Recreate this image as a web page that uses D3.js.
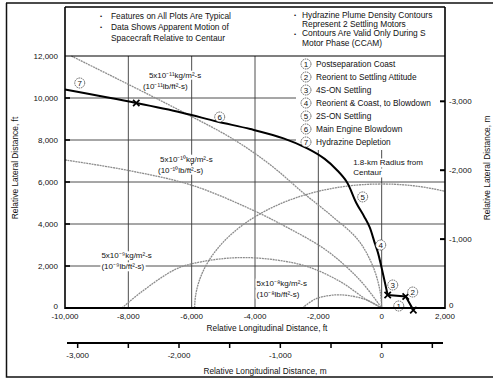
<!DOCTYPE html>
<html><head><meta charset="utf-8">
<script src="https://cdn.jsdelivr.net/npm/d3@7"></script>
<style>
body{margin:0;background:#fff}
text{font-family:"Liberation Sans",Arial,Helvetica,sans-serif;fill:#111}
</style>
</head><body>
<svg id="c" width="493" height="379"></svg>
<script>
// ---------- data ----------
const xTicksFt = [-10000,-8000,-6000,-4000,-2000,0,2000];
const yTicksFt = [0,2000,4000,6000,8000,10000,12000];
const xGridFt = [-8000,-6000,-4000,-2000,0];
const yGridFt = [2000,4000,6000,8000,10000];
const xTicksM = [-3000,-2000,-1000,0];
const xMinorTicksM = [-2500,-1500,-500,500];
const yTicksM = [0,-1000,-2000,-3000];

// trajectory of spacecraft relative to Centaur (ft)
const trajectorySmooth = [
  [-10000,10400],[-7750,9760],[-6300,9300],[-5200,8880],[-4150,8520],[-3100,8080],
  [-2350,7600],[-1800,7100],[-1400,6550],[-1100,6000],[-800,5000],[-550,4350],
  [-380,3850],[-220,3100],[-120,2650],[0,1900],[190,620]
];
const trajectoryEnd = [[190,620],[760,550],[1000,-100]];
const markerPoints = [[-7750,9760],[190,620],[760,550],[1000,-100]];

// circled phase numbers (ft)
const phaseNums = [1,2,3,4,5,6,7];
const phaseNumX = [540,980,350,-30,-600,-5115,-9535];
const phaseNumY = [95,760,1095,3000,5290,9095,10714];
const phaseNames = ["Postseparation Coast","Reorient to Settling Attitude","4S-ON Settling",
  "Reorient & Coast, to Blowdown","2S-ON Settling","Main Engine Blowdown","Hydrazine Depletion"];

// plume density contours (ft)
const contour11 = [[-9800,12000],[-8000,10650],[-6300,9350],[-4700,8050],[-3500,6800],
  [-2450,5450],[-1550,4350],[-750,3250],[-280,2000],[-50,800],[0,0]];
const contour10 = [[-10000,7050],[-8000,6550],[-6000,5850],[-4200,4750],[-3000,3850],
  [-1750,2750],[-700,1350],[0,0]];
const contour9 = [[-8200,0],[-7600,750],[-6500,1850],[-5700,2200],[-4500,2400],[-3300,2280],
  [-2300,1950],[-1300,1250],[-500,420],[0,0]];
const contour8 = [[-2500,0],[-2100,420],[-1500,620],[-900,560],[-400,330],[0,0]];
const radiusKm = 1.8;

const contourLabels = [
  {x:-7350,y:11100,l1:"5x10⁻¹¹kg/m²-s",l2:"(10⁻¹¹lb/ft²-s)",dx2:-6},
  {x:-7000,y:7100,l1:"5x10⁻¹⁰kg/m²-s",l2:"(10⁻¹⁰lb/ft²-s)",dx2:-2},
  {x:-8850,y:2500,l1:"5x10⁻⁹kg/m²-s",l2:"(10⁻⁹lb/ft²-s)",dx2:0},
  {x:-3950,y:1200,l1:"5x10⁻⁸kg/m²-s",l2:"(10⁻⁸lb/ft²-s)",dx2:0}
];
const notesLeft = [["•","Features on All Plots Are Typical"],["•","Data Shows Apparent Motion of"],["","Spacecraft Relative to Centaur"]];
const notesRight = [["•","Hydrazine Plume Density Contours"],["","Represent 2 Settling Motors"],["•","Contours Are Valid Only During S"],["","Motor Phase (CCAM)"]];

// ---------- layout ----------
const svg = d3.select("#c");
const L=65, R=445, T=56, B=308;
const x = d3.scaleLinear().domain([-10000,2000]).range([L,R]);
const y = d3.scaleLinear().domain([0,12000]).range([B,T]);
const ftPerM = 1/0.3048;
const ym = d3.scaleLinear().domain([0,-3000]).range([y(0), y(3000*ftPerM)]);
const xm = d3.scaleLinear().domain([-3000,0]).range([x(0)-304, x(0)]);
const fmt = d3.formatLocale({decimal:".",thousands:",",grouping:[3],currency:["$",""],minus:"-"}).format(",");

svg.append("rect").attr("width",493).attr("height",379).attr("fill","#fff");

// outer border
svg.append("path").attr("d","M6.5,3 L6.5,377 L493,377 M6,3 L493,3").attr("fill","none").attr("stroke","#111").attr("stroke-width",1.5);

// gridlines
const grid = svg.append("g").attr("stroke","#3a3a3a").attr("stroke-width",0.9);
grid.selectAll(".h").data(yGridFt).join("line").attr("x1",L).attr("x2",R).attr("y1",d=>y(d)).attr("y2",d=>y(d));
grid.selectAll(".v").data(xGridFt).join("line").attr("x1",d=>x(d)).attr("x2",d=>x(d)).attr("y1",B).attr("y2",T);

// contours
const cl = d3.line().x(d=>x(d[0])).y(d=>y(d[1])).curve(d3.curveCatmullRom.alpha(0.5));
const cg = svg.append("g").attr("fill","none").attr("stroke","#8c8c8c").attr("stroke-width",1.3).attr("stroke-dasharray","2,0.7");
[contour11,contour10,contour9,contour8].forEach(c=>cg.append("path").attr("d",cl(c)));
// 1.8 km radius circle about Centaur
const Rft = radiusKm*1000*ftPerM;
const a0 = Math.PI, a1 = Math.acos(2000/Rft);
const circ = d3.range(0,61).map(i=>{const a=a0+(a1-a0)*i/60; return [Rft*Math.cos(a), Rft*Math.sin(a)];});
cg.append("path").attr("d",d3.line().x(d=>x(d[0])).y(d=>y(d[1]))(circ));

// legend box (hides grid)
svg.append("rect").attr("x",296).attr("y",T).attr("width",R-296).attr("height",150-T).attr("fill","#fff");

// contour labels with white background
function bgText(g, tx, ty, str){
  const t = g.append("text").attr("x",tx).attr("y",ty).attr("dy","0.35em").attr("font-size",8).text(str);
  const bb = t.node().getBBox();
  g.insert("rect","text").attr("x",bb.x-1).attr("y",bb.y).attr("width",bb.width+2).attr("height",bb.height).attr("fill","#fff");
  return t;
}
contourLabels.forEach(c=>{
  const g = svg.append("g");
  bgText(g, x(c.x), y(c.y), c.l1);
  bgText(g, x(c.x)+c.dx2, y(c.y)+11, c.l2);
});
// 1.8-km label
{
  const g = svg.append("g");
  bgText(g, x(-900), y(6920), "1.8-km Radius from");
  bgText(g, x(-900), y(6920)+10, "Centaur");
}

// trajectory
svg.append("path").attr("d",d3.line().x(d=>x(d[0])).y(d=>y(d[1])).curve(d3.curveCatmullRom.alpha(0.5))(trajectorySmooth))
  .attr("fill","none").attr("stroke","#000").attr("stroke-width",2);
svg.append("path").attr("d",d3.line().x(d=>x(d[0])).y(d=>y(d[1]))(trajectoryEnd))
  .attr("fill","none").attr("stroke","#000").attr("stroke-width",2);
svg.selectAll(".mk").data(markerPoints).join("path")
  .attr("transform",d=>`translate(${x(d[0])},${y(d[1])})`)
  .attr("d",d3.symbol(d3.symbolX,28)).attr("fill","none").attr("stroke","#000").attr("stroke-width",1.7);

// circled numbers
function circNum(g, cx, cy, n){
  g.append("circle").attr("cx",cx).attr("cy",cy).attr("r",5).attr("fill","#fff")
   .attr("stroke","#444").attr("stroke-width",0.8).attr("stroke-dasharray","1.6,0.8");
  g.append("text").attr("x",cx).attr("y",cy).attr("dy","0.36em").attr("text-anchor","middle").attr("font-size",8).text(n);
}
const pg = svg.append("g");
phaseNums.forEach((n,i)=>circNum(pg, x(phaseNumX[i]), y(phaseNumY[i]), n));

// legend
const lg = svg.append("g");
phaseNames.forEach((s,i)=>{
  const cy = 64 + i*13;
  circNum(lg, 306, cy, phaseNums[i]);
  lg.append("text").attr("x",316).attr("y",cy).attr("dy","0.35em").attr("font-size",8.3).text(s);
});

// notes
const ng = svg.append("g").attr("font-size",8.4);
notesLeft.forEach((n,i)=>{
  const yy = 16 + i*11;
  if(n[0]) ng.append("text").attr("x",100).attr("y",yy).attr("dy","0.35em").attr("font-size",6).text(n[0]);
  ng.append("text").attr("x",111).attr("y",yy).attr("dy","0.35em").text(n[1]);
});
notesRight.forEach((n,i)=>{
  const yy = 15 + i*9.2;
  if(n[0]) ng.append("text").attr("x",294).attr("y",yy).attr("dy","0.35em").attr("font-size",6).text(n[0]);
  ng.append("text").attr("x",302).attr("y",yy).attr("dy","0.35em").text(n[1]);
});

// frame
const fr = svg.append("g").attr("stroke","#000").attr("fill","none");
fr.append("line").attr("x1",L).attr("x2",L).attr("y1",7).attr("y2",B+1).attr("stroke-width",1.6);
fr.append("line").attr("x1",R).attr("x2",R).attr("y1",7).attr("y2",B+1).attr("stroke-width",1.6);
fr.append("line").attr("x1",L).attr("x2",R).attr("y1",7).attr("y2",7).attr("stroke-width",1.4);
fr.append("line").attr("x1",L).attr("x2",R).attr("y1",y(12000)).attr("y2",y(12000)).attr("stroke-width",1.1);
fr.append("line").attr("x1",L).attr("x2",R).attr("y1",B).attr("y2",B).attr("stroke-width",2);
// left inward ticks
fr.selectAll(".lt").data(yTicksFt.slice(1,-1)).join("line").attr("x1",L).attr("x2",L+5).attr("y1",d=>y(d)).attr("y2",d=>y(d)).attr("stroke-width",1.6);

// left ft axis labels
svg.append("g").selectAll("text").data(yTicksFt).join("text")
  .attr("x",58).attr("y",d=>y(d)-(d===0?2:0)).attr("dy","0.35em").attr("text-anchor","end").attr("font-size",8).text(fmt);
// bottom ft axis labels
svg.append("g").selectAll("text").data(xTicksFt).join("text")
  .attr("x",d=>x(d)).attr("y",316).attr("dy","0.35em").attr("text-anchor","middle").attr("font-size",8).text(fmt);
svg.append("text").attr("x",267).attr("y",328).attr("dy","0.35em").attr("text-anchor","middle").attr("font-size",8.3).text("Relative Longitudinal Distance, ft");
svg.append("text").attr("transform",`translate(15,168) rotate(-90)`).attr("dy","0.35em").attr("text-anchor","middle").attr("font-size",8.4).text("Relative Lateral Distance, ft");

// right m axis
const ra = svg.append("g");
ra.selectAll("line").data(yTicksM.slice(1)).join("line").attr("x1",R-5).attr("x2",R).attr("y1",d=>ym(d)).attr("y2",d=>ym(d)).attr("stroke","#000").attr("stroke-width",2);
ra.selectAll("text").data(yTicksM).join("text").attr("x",449).attr("y",d=>ym(d)-(d===0?3:0)).attr("dy","0.35em").attr("font-size",8).text(fmt);
svg.append("text").attr("transform",`translate(487,168) rotate(-90)`).attr("dy","0.35em").attr("text-anchor","middle").attr("font-size",8.4).text("Relative Lateral Distance, m");

// bottom m axis
const ba = svg.append("g").attr("transform","translate(0,343)");
ba.append("line").attr("x1",L+2).attr("x2",R-2).attr("y1",0).attr("y2",0).attr("stroke","#000").attr("stroke-width",2);
ba.selectAll(".tk").data(xTicksM.concat(xMinorTicksM)).join("line").attr("x1",d=>xm(d)).attr("x2",d=>xm(d)).attr("y1",0).attr("y2",5).attr("stroke","#000").attr("stroke-width",1.5);
ba.selectAll("text").data(xTicksM).join("text").attr("x",d=>xm(d)).attr("y",12).attr("dy","0.35em").attr("text-anchor","middle").attr("font-size",8).text(fmt);
svg.append("text").attr("x",265).attr("y",371).attr("dy","0.35em").attr("text-anchor","middle").attr("font-size",8.3).text("Relative Longitudinal Distance, m");
</script>
</body></html>
